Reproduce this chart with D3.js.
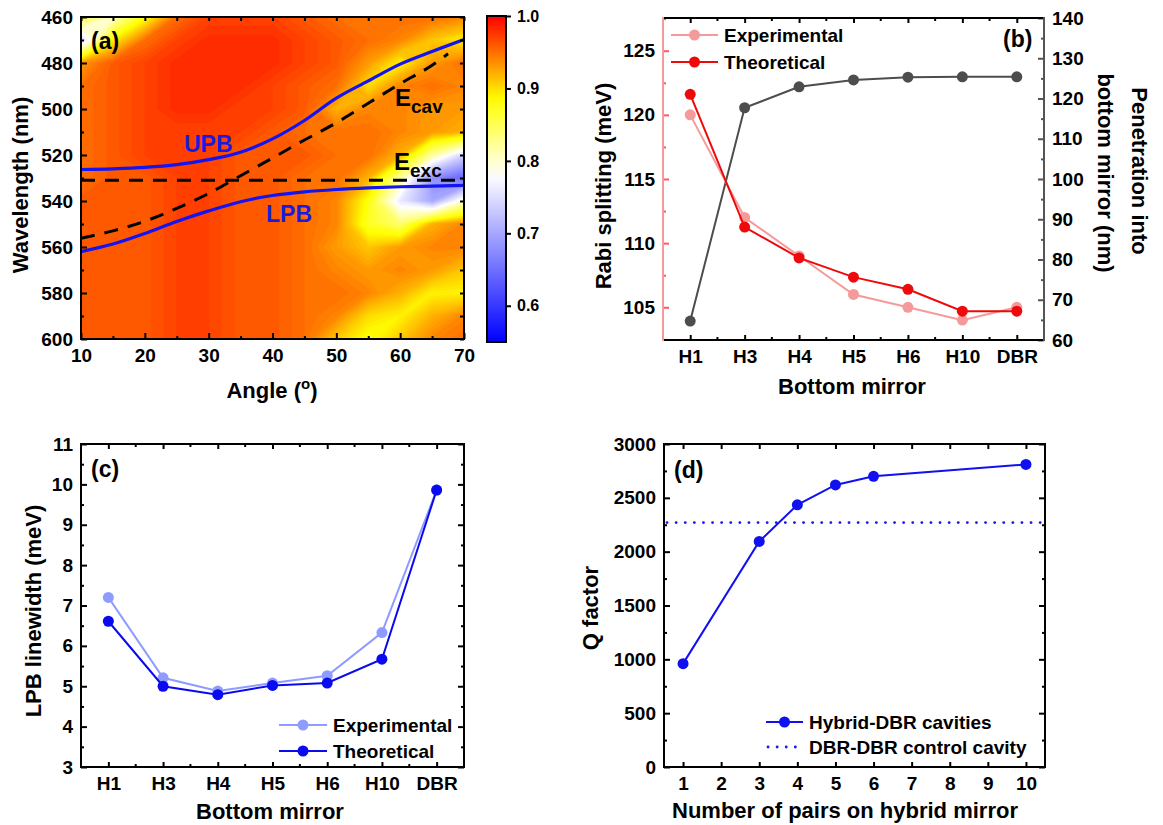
<!DOCTYPE html>
<html><head><meta charset="utf-8">
<script src="https://cdn.jsdelivr.net/npm/d3@7"></script>
<style>
body{margin:0;background:#fff}
svg{display:block}
text{font-family:"Liberation Sans",Arial,sans-serif;font-weight:bold;fill:#000}
</style>
</head><body>
<svg id="chart" width="1163" height="825"></svg>
<script>
// ---------------- DATA ----------------
// Panel (a): angle-resolved reflectance map
const angles = [10,15,20,25,30,35,40,45,50,55,60,65,70];
const wavelengths = [460,470,480,490,500,510,520,530,540,550,560,570,580,590,600];
const reflectanceRows = [
  [0.86,0.80,0.88,0.95,0.97,0.97,0.97,0.96,0.95,0.95,0.95,0.95,0.94],
  [0.74,0.89,0.95,0.97,0.98,0.98,0.98,0.97,0.96,0.95,0.94,0.91,0.89],
  [0.93,0.96,0.97,0.98,0.98,0.98,0.98,0.97,0.96,0.93,0.89,0.93,0.95],
  [0.95,0.96,0.97,0.98,0.98,0.98,0.97,0.96,0.95,0.90,0.94,0.95,0.94],
  [0.95,0.96,0.97,0.98,0.98,0.97,0.97,0.96,0.92,0.94,0.94,0.93,0.93],
  [0.95,0.96,0.97,0.97,0.97,0.97,0.96,0.95,0.95,0.95,0.94,0.93,0.92],
  [0.95,0.96,0.97,0.97,0.97,0.96,0.96,0.96,0.95,0.95,0.92,0.82,0.74],
  [0.95,0.96,0.96,0.97,0.97,0.96,0.96,0.95,0.95,0.92,0.82,0.68,0.64],
  [0.96,0.96,0.96,0.97,0.97,0.96,0.96,0.95,0.94,0.88,0.76,0.70,0.80],
  [0.96,0.96,0.96,0.97,0.97,0.96,0.96,0.95,0.94,0.87,0.84,0.92,0.94],
  [0.96,0.96,0.96,0.97,0.97,0.96,0.96,0.95,0.93,0.91,0.93,0.94,0.94],
  [0.96,0.96,0.96,0.97,0.97,0.96,0.96,0.95,0.94,0.93,0.94,0.93,0.91],
  [0.96,0.96,0.96,0.97,0.97,0.96,0.96,0.95,0.95,0.94,0.92,0.89,0.89],
  [0.96,0.96,0.96,0.97,0.97,0.96,0.96,0.95,0.94,0.90,0.89,0.92,0.94],
  [0.96,0.96,0.96,0.97,0.97,0.96,0.96,0.95,0.91,0.88,0.91,0.94,0.95]
];
const upbWavelength = [526.3,526.0,525.4,524.2,522.0,518.8,513.0,505.0,495.3,487.8,480.5,475.0,469.8];
const lpbWavelength = [562.0,558.7,554.1,548.9,544.3,540.3,537.6,536.0,535.0,534.3,533.8,533.5,533.2];
const cavAngles = [10,15,20,25,30,35,40,45,50,55,60,65,67.5];
const cavWavelength = [556.2,553.0,548.8,543.2,536.7,529.0,521.3,513.5,506.0,497.5,489.0,481.0,476.0];
const excWavelength = 531;
const colorbarTicks = [0.6,0.7,0.8,0.9,1.0];

// Panels (b), (c)
const mirrors = ["H1","H3","H4","H5","H6","H10","DBR"];
const rabiExperimental = [120,112,109,106,105,104,105];
const rabiTheoretical = [121.6,111.25,108.85,107.35,106.4,104.7,104.7];
const penetrationDepth = [64.7,117.7,122.9,124.6,125.3,125.4,125.4];
const linewidthExperimental = [7.2,5.21,4.88,5.08,5.26,6.33,9.86];
const linewidthTheoretical = [6.61,5.0,4.79,5.02,5.08,5.67,9.86];

// Panel (d)
const pairCounts = [1,3,4,5,6,10];
const qFactors = [960,2095,2435,2620,2700,2810];
const qControl = 2270;

// ---------------- HELPERS ----------------
const svg = d3.select("#chart");
svg.append("rect").attr("width",1163).attr("height",825).attr("fill","#fff");
const TICK_FS = 19, TITLE_FS = 22;

function styleAxis(g, color){
  g.attr("font-size", null).attr("font-family", null);
  g.select(".domain").remove();
  g.selectAll(".tick line").attr("stroke", color || "#000").attr("stroke-width", 2);
  g.selectAll(".tick text").style("font-size", TICK_FS + "px").attr("fill", "#000");
  return g;
}
function addAxis(parent, gen, tx, ty, color){
  const g = parent.append("g").attr("transform", `translate(${tx},${ty})`).call(gen);
  return styleAxis(g, color);
}
function frame(parent, x0, x1, y0, y1, cols){
  cols = cols || {};
  const seg = (a,b,c,d,col) => parent.append("line").attr("x1",a).attr("y1",b).attr("x2",c).attr("y2",d)
    .attr("stroke", col || "#000").attr("stroke-width", 2).attr("stroke-linecap","square");
  seg(x0,y0,x1,y0,cols.top); seg(x0,y1,x1,y1,cols.bottom);
  seg(x0,y0,x0,y1,cols.left); seg(x1,y0,x1,y1,cols.right);
}
function rotTitle(parent, x, y, angle, str){
  return parent.append("text").attr("transform", `translate(${x},${y}) rotate(${angle})`)
    .attr("text-anchor","middle").style("font-size", TITLE_FS + "px").text(str);
}
function xTitle(parent, x, y, str){
  return parent.append("text").attr("x", x).attr("y", y).attr("text-anchor","middle")
    .style("font-size", TITLE_FS + "px").text(str);
}
function panelLabel(parent, x, y, str){
  parent.append("text").attr("x", x).attr("y", y).style("font-size","23px").text(str);
}
function seriesLine(parent, xs, ys, xv, yv, color, width){
  const line = d3.line().x((d,i)=>xs(xv[i])).y(d=>ys(d));
  parent.append("path").datum(yv).attr("d", line).attr("fill","none")
    .attr("stroke", color).attr("stroke-width", width || 2);
  parent.append("g").selectAll("circle").data(yv).join("circle")
    .attr("cx",(d,i)=>xs(xv[i])).attr("cy",d=>ys(d)).attr("r",5.5).attr("fill", color);
}
const DOTS = "0.1,9";
function legendItem(parent, x0, x1, y, color, label, dotted){
  if (dotted){
    parent.append("line").attr("x1",x0+2).attr("x2",x1).attr("y1",y).attr("y2",y)
      .attr("stroke",color).attr("stroke-width",2.8).attr("stroke-dasharray",DOTS).attr("stroke-linecap","round");
  } else {
    parent.append("line").attr("x1",x0).attr("x2",x1).attr("y1",y).attr("y2",y).attr("stroke",color).attr("stroke-width",2);
    parent.append("circle").attr("cx",(x0+x1)/2).attr("cy",y).attr("r",5.5).attr("fill",color);
  }
  parent.append("text").attr("x", x1 + 6).attr("y", y).attr("dy","0.35em").style("font-size","19px").text(label);
}
function categoryMinorTicks(parent, xs, y, len, dir, color){
  const mids = xs.domain().slice(0,-1).map(c => xs(c) + xs.step()/2);
  parent.append("g").selectAll("line").data(mids).join("line")
    .attr("x1",d=>d).attr("x2",d=>d).attr("y1",y).attr("y2",y + dir*len)
    .attr("stroke", color || "#000").attr("stroke-width",2);
}

// ---------------- PANEL (a) ----------------
const A = {x0:81, x1:464, y0:17, y1:339};
const xA = d3.scaleLinear().domain([10,70]).range([A.x0, A.x1]);
const yA = d3.scaleLinear().domain([460,600]).range([A.y0, A.y1]);
const reflColor = d3.scaleLinear().domain([0.55,0.78,0.885,1.0])
  .range(["#0000ff","#ffffff","#ffff00","#ff0000"]).clamp(true);

const gA = svg.append("g");
const defs = svg.append("defs");
defs.append("clipPath").attr("id","clipA").append("rect")
  .attr("x",A.x0).attr("y",A.y0).attr("width",A.x1-A.x0).attr("height",A.y1-A.y0);

const nx = angles.length, ny = wavelengths.length;
const gridValues = reflectanceRows.flat();
const contourGen = d3.contours().size([nx, ny]).thresholds(d3.range(0.55, 1.0001, 0.004));
const bands = contourGen(gridValues);
const gx = d3.scaleLinear().domain([0.5, nx-0.5]).range([xA(angles[0]), xA(angles[nx-1])]);
const gy = d3.scaleLinear().domain([0.5, ny-0.5]).range([yA(wavelengths[0]), yA(wavelengths[ny-1])]);
const gridPath = d3.geoPath(d3.geoTransform({point(x,y){ this.stream.point(gx(x), gy(y)); }}));
const heat = gA.append("g").attr("clip-path","url(#clipA)");
heat.selectAll("path").data(bands).join("path")
  .attr("d", gridPath).attr("fill", d => reflColor(d.value + 0.002))
  .attr("stroke", d => reflColor(d.value + 0.002)).attr("stroke-width",0.4);

const curveG = gA.append("g").attr("clip-path","url(#clipA)");
const lineA = d3.line().curve(d3.curveMonotoneX);
curveG.append("path").attr("d", lineA(angles.map((a,i)=>[xA(a), yA(upbWavelength[i])])))
  .attr("fill","none").attr("stroke","#1414f0").attr("stroke-width",3.2);
curveG.append("path").attr("d", lineA(angles.map((a,i)=>[xA(a), yA(lpbWavelength[i])])))
  .attr("fill","none").attr("stroke","#1414f0").attr("stroke-width",3.2);
curveG.append("path").attr("d", lineA(cavAngles.map((a,i)=>[xA(a), yA(cavWavelength[i])])))
  .attr("fill","none").attr("stroke","#000").attr("stroke-width",3).attr("stroke-dasharray","14,10");
curveG.append("line").attr("x1",xA(10)).attr("x2",xA(70)).attr("y1",yA(excWavelength)).attr("y2",yA(excWavelength))
  .attr("stroke","#000").attr("stroke-width",3).attr("stroke-dasharray","14,10");

// axes (a)
addAxis(gA, d3.axisBottom(xA).tickValues(d3.range(10,71,10)).tickSize(-6).tickPadding(9.5).tickFormat(d3.format("d")), 0, A.y1);
addAxis(gA, d3.axisBottom(xA).tickValues(d3.range(15,70,10)).tickSize(-3).tickFormat(""), 0, A.y1);
addAxis(gA, d3.axisTop(xA).tickValues(d3.range(10,71,5)).tickSize(-4).tickFormat(""), 0, A.y0);
addAxis(gA, d3.axisLeft(yA).tickValues(d3.range(460,601,20)).tickSize(-6).tickPadding(8).tickFormat(d3.format("d")), A.x0, 0);
addAxis(gA, d3.axisLeft(yA).tickValues(d3.range(470,600,20)).tickSize(-3).tickFormat(""), A.x0, 0);
addAxis(gA, d3.axisRight(yA).tickValues(d3.range(460,601,10)).tickSize(-4).tickFormat(""), A.x1, 0);
frame(gA, A.x0, A.x1, A.y0, A.y1);

// labels (a)
panelLabel(gA, 91, 49, "(a)");
gA.append("text").attr("x",184).attr("y",152).style("font-size","23px").style("fill","#1a1ae6").text("UPB");
gA.append("text").attr("x",266).attr("y",222).style("font-size","23px").style("fill","#1a1ae6").text("LPB");
const ecav = gA.append("text").attr("x",395).attr("y",106).style("font-size","24px");
ecav.append("tspan").text("E");
ecav.append("tspan").attr("dy",7).style("font-size","19px").text("cav");
const eexc = gA.append("text").attr("x",394).attr("y",170).style("font-size","24px");
eexc.append("tspan").text("E");
eexc.append("tspan").attr("dy",7).style("font-size","19px").text("exc");
rotTitle(gA, 28, 185, -90, "Wavelength (nm)");
const angT = gA.append("text").attr("x",272).attr("y",398).attr("text-anchor","middle").style("font-size",TITLE_FS+"px");
angT.append("tspan").text("Angle  (");
angT.append("tspan").attr("dy",-9).style("font-size","15px").text("o");
angT.append("tspan").attr("dy",9).text(")");

// colorbar
const CB = {x0:487, x1:506, y0:16, y1:342};
const cS = d3.scaleLinear().domain([0.55,1.0]).range([CB.y1, CB.y0]);
const grad = defs.append("linearGradient").attr("id","cbGrad").attr("x1",0).attr("x2",0).attr("y1",1).attr("y2",0);
d3.range(0,1.0001,0.05).forEach(t => {
  grad.append("stop").attr("offset", t).attr("stop-color", reflColor(0.55 + t*0.45));
});
gA.append("rect").attr("x",CB.x0).attr("y",CB.y0).attr("width",CB.x1-CB.x0).attr("height",CB.y1-CB.y0)
  .attr("fill","url(#cbGrad)").attr("stroke","#000").attr("stroke-width",2);
const cbAx = addAxis(gA, d3.axisRight(cS).tickValues(colorbarTicks).tickSize(5).tickPadding(6).tickFormat(d3.format(".1f")), CB.x1, 0);
cbAx.selectAll(".tick text").style("font-size","16px");

// ---------------- PANEL (b) ----------------
const B = {x0:663, x1:1044, y0:18, y1:340};
const xB = d3.scalePoint().domain(mirrors).range([B.x0, B.x1]).padding(0.5);
const yBL = d3.scaleLinear().domain([102.45,127.55]).range([B.y1, B.y0]);
const yBR = d3.scaleLinear().domain([60,140]).range([B.y1, B.y0]);
const gB = svg.append("g");
const pinkAxis = "#f59a9a", grayAxis = "#555";

seriesLine(gB, xB, yBR, mirrors, penetrationDepth, "#4d4d4d");
seriesLine(gB, xB, yBL, mirrors, rabiExperimental, "#f59a9a");
seriesLine(gB, xB, yBL, mirrors, rabiTheoretical, "#ee0a0a");

addAxis(gB, d3.axisBottom(xB).tickSize(-5).tickPadding(9.5), 0, B.y1);
categoryMinorTicks(gB, xB, B.y1, 3, -1);
addAxis(gB, d3.axisTop(xB).tickSize(-5).tickFormat(""), 0, B.y0);
categoryMinorTicks(gB, xB, B.y0, 3, 1);
addAxis(gB, d3.axisLeft(yBL).tickValues([105,110,115,120,125]).tickSize(-6).tickPadding(8), B.x0, 0, "#ff5a5a");
addAxis(gB, d3.axisLeft(yBL).tickValues([102.5,107.5,112.5,117.5,122.5,127.5]).tickSize(-3).tickFormat(""), B.x0, 0, "#ff5a5a");
addAxis(gB, d3.axisRight(yBR).tickValues(d3.range(60,141,10)).tickSize(-6).tickPadding(8), B.x1, 0, grayAxis);
addAxis(gB, d3.axisRight(yBR).tickValues(d3.range(65,140,10)).tickSize(-3).tickFormat(""), B.x1, 0, grayAxis);
frame(gB, B.x0, B.x1, B.y0, B.y1, {left: pinkAxis, right: grayAxis});

legendItem(gB, 671, 718, 35, "#f59a9a", "Experimental");
legendItem(gB, 671, 718, 62, "#ee0a0a", "Theoretical");
panelLabel(gB, 1003, 47, "(b)");
rotTitle(gB, 611, 186, -90, "Rabi splitting (meV)");
rotTitle(gB, 1132, 171, 90, "Penetration into");
rotTitle(gB, 1098, 173, 90, "bottom mirror (nm)");
xTitle(gB, 852, 394, "Bottom mirror");

// ---------------- PANEL (c) ----------------
const C = {x0:81, x1:464, y0:444, y1:767};
const xC = d3.scalePoint().domain(mirrors).range([C.x0, C.x1]).padding(0.5);
const yC = d3.scaleLinear().domain([3,11]).range([C.y1, C.y0]);
const gC = svg.append("g");
seriesLine(gC, xC, yC, mirrors, linewidthExperimental, "#8f9cff");
seriesLine(gC, xC, yC, mirrors, linewidthTheoretical, "#0a0aee");

addAxis(gC, d3.axisBottom(xC).tickSize(-5).tickPadding(9.5), 0, C.y1);
categoryMinorTicks(gC, xC, C.y1, 3, -1);
addAxis(gC, d3.axisTop(xC).tickSize(-5).tickFormat(""), 0, C.y0);
categoryMinorTicks(gC, xC, C.y0, 3, 1);
addAxis(gC, d3.axisLeft(yC).tickValues(d3.range(3,12,1)).tickSize(-6).tickPadding(8), C.x0, 0);
addAxis(gC, d3.axisLeft(yC).tickValues(d3.range(3.5,11,1)).tickSize(-3).tickFormat(""), C.x0, 0);
addAxis(gC, d3.axisRight(yC).tickValues(d3.range(3,12,1)).tickSize(-6).tickFormat(""), C.x1, 0);
addAxis(gC, d3.axisRight(yC).tickValues(d3.range(3.5,11,1)).tickSize(-3).tickFormat(""), C.x1, 0);
frame(gC, C.x0, C.x1, C.y0, C.y1);

legendItem(gC, 279, 327, 725, "#8f9cff", "Experimental");
legendItem(gC, 279, 327, 751, "#0a0aee", "Theoretical");
panelLabel(gC, 91, 477, "(c)");
rotTitle(gC, 41, 611, -90, "LPB linewidth (meV)");
xTitle(gC, 270, 819, "Bottom mirror");

// ---------------- PANEL (d) ----------------
const D = {x0:664, x1:1045, y0:444, y1:767};
const xD = d3.scaleLinear().domain([0.5,10.5]).range([D.x0, D.x1]);
const yD = d3.scaleLinear().domain([0,3000]).range([D.y1, D.y0]);
const gD = svg.append("g");
gD.append("line").attr("x1",xD(0.5)+3).attr("x2",xD(10.5)).attr("y1",yD(qControl)).attr("y2",yD(qControl))
  .attr("stroke","#1a1af0").attr("stroke-width",2.8).attr("stroke-dasharray",DOTS).attr("stroke-linecap","round");
seriesLine(gD, xD, yD, pairCounts, qFactors, "#1010f0");

addAxis(gD, d3.axisBottom(xD).tickValues(d3.range(1,11)).tickSize(-5).tickPadding(9.5).tickFormat(d3.format("d")), 0, D.y1);
addAxis(gD, d3.axisTop(xD).tickValues(d3.range(1,11)).tickSize(-5).tickFormat(""), 0, D.y0);
addAxis(gD, d3.axisLeft(yD).tickValues(d3.range(0,3001,500)).tickSize(-6).tickPadding(8).tickFormat(d3.format("d")), D.x0, 0);
addAxis(gD, d3.axisLeft(yD).tickValues(d3.range(250,3000,500)).tickSize(-3).tickFormat(""), D.x0, 0);
addAxis(gD, d3.axisRight(yD).tickValues(d3.range(0,3001,500)).tickSize(-6).tickFormat(""), D.x1, 0);
addAxis(gD, d3.axisRight(yD).tickValues(d3.range(250,3000,500)).tickSize(-3).tickFormat(""), D.x1, 0);
frame(gD, D.x0, D.x1, D.y0, D.y1);

legendItem(gD, 766, 803, 722, "#1010f0", "Hybrid-DBR cavities");
legendItem(gD, 766, 803, 747, "#1a1af0", "DBR-DBR control cavity", true);
panelLabel(gD, 674, 478, "(d)");
rotTitle(gD, 598, 608, -90, "Q factor");
xTitle(gD, 845, 818, "Number of pairs on hybrid mirror");
</script>
</body></html>
